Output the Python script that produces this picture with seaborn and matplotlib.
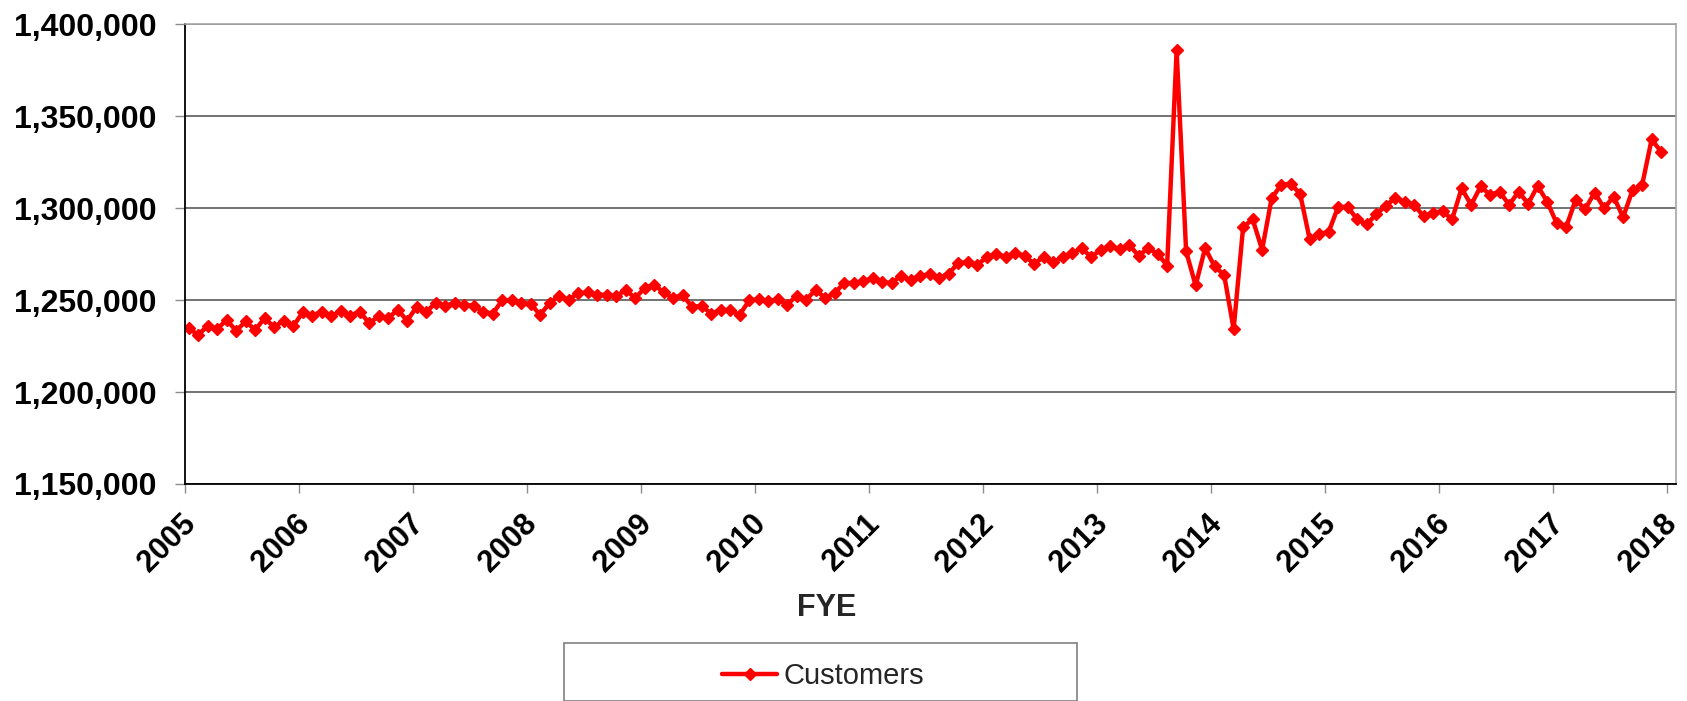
import numpy as np
import pandas as pd
import matplotlib
matplotlib.use("Agg")
import matplotlib.pyplot as plt
import matplotlib.transforms as mtransforms
import seaborn as sns
from matplotlib.ticker import FuncFormatter, MultipleLocator
from matplotlib.patches import Rectangle

# Monthly customer counts, one list per fiscal year
fy2005 = [1234700, 1231100, 1236000, 1234200, 1239300, 1233300, 1238400, 1233800, 1240200, 1235300, 1238900, 1235700]
fy2006 = [1243300, 1241500, 1243800, 1241100, 1244200, 1241500, 1243800, 1237500, 1241100, 1240200, 1244700, 1238900]
fy2007 = [1246200, 1243300, 1248700, 1246900, 1248400, 1247500, 1246900, 1243800, 1242600, 1249800, 1249800, 1248400]
fy2008 = [1248000, 1242000, 1248400, 1252400, 1250200, 1253800, 1254200, 1252900, 1252900, 1252000, 1255600, 1251100]
fy2009 = [1256500, 1258400, 1254200, 1251100, 1252900, 1246200, 1246900, 1242600, 1244700, 1244400, 1242000, 1249800]
fy2010 = [1250500, 1249300, 1250500, 1247500, 1252400, 1250200, 1255600, 1251100, 1253800, 1259300, 1259300, 1260200]
fy2011 = [1262000, 1259800, 1259300, 1263300, 1260700, 1262900, 1264300, 1262000, 1264300, 1270200, 1270500, 1269200]
fy2012 = [1273200, 1275200, 1273400, 1275500, 1274100, 1269800, 1273400, 1270500, 1273400, 1275500, 1278300, 1273400]
fy2013 = [1277400, 1279500, 1277700, 1280100, 1274100, 1278300, 1275200, 1268800, 1385900, 1276500, 1258000, 1278300]
fy2014 = [1268300, 1263800, 1234200, 1289700, 1294000, 1277400, 1305400, 1312700, 1313300, 1307800, 1283200, 1286100]
fy2015 = [1287000, 1300700, 1300700, 1294000, 1291200, 1296600, 1301300, 1305400, 1303600, 1301800, 1295500, 1297600]
fy2016 = [1298200, 1294000, 1310800, 1301800, 1311800, 1307200, 1309000, 1301800, 1309000, 1302400, 1312100, 1303600]
fy2017 = [1291900, 1289700, 1304500, 1299500, 1308500, 1300000, 1306300, 1295100, 1309900, 1312600, 1337400, 1330700]

year_labels = [str(y) for y in range(2005, 2019)]
series_name = "Customers"
x_title = "FYE"

customers = (fy2005 + fy2006 + fy2007 + fy2008 + fy2009 + fy2010 + fy2011
             + fy2012 + fy2013 + fy2014 + fy2015 + fy2016 + fy2017)
# each reading sits a few days into its month
fye = 2005 + (np.arange(len(customers)) + 0.35) / 12.0
df = pd.DataFrame({x_title: fye, series_name: customers})

sns.set_theme(style="white")
plt.rcParams["font.family"] = ["Liberation Sans", "DejaVu Sans"]

W, H = 1687, 701
fig = plt.figure(figsize=(W / 100, H / 100), dpi=100)
left, right, top, bottom = 185.3, 1676.0, 24.3, 484.0
ax = fig.add_axes([left / W, 1 - bottom / H, (right - left) / W, (bottom - top) / H])

red = "#ff0000"
sns.lineplot(data=df, x=x_title, y=series_name, ax=ax, color=red, linewidth=3.2,
             marker="D", markersize=6.5, markeredgecolor=red, markeredgewidth=1,
             legend=False, label=series_name)

ax.set_xlim(2005, 2005 + (right - left) / 114.0)
ax.set_ylim(1150000, 1400000)
ax.yaxis.set_major_locator(MultipleLocator(50000))
ax.yaxis.set_major_formatter(FuncFormatter(lambda v, p: f"{int(v):,}"))
ax.grid(axis="y", color="#5a5a5a", linewidth=1.2)
ax.grid(axis="x", visible=False)

ax.set_xticks(range(2005, 2019))
ax.set_xticklabels(year_labels, rotation=45, ha="right", va="top",
                   rotation_mode="anchor", fontsize=22, fontweight="bold")
for t in ax.get_yticklabels():
    t.set_fontsize(23)
    t.set_fontweight("bold")

ax.tick_params(axis="y", which="major", left=True, length=7, width=1,
               color="#8c8c8c", pad=14, labelcolor="black")
ax.tick_params(axis="x", which="major", bottom=True, length=6.5, width=1,
               color="#8c8c8c", pad=11.5, labelcolor="black")

# slanted year labels: upper end just left of each tick
shift = mtransforms.ScaledTranslation(-0.05, 0, fig.dpi_scale_trans)
for lab in ax.get_xticklabels():
    lab.set_transform(lab.get_transform() + shift)

ax.set_xlabel("")
ax.set_ylabel("")
for side in ("left", "bottom"):
    ax.spines[side].set_color("black")
    ax.spines[side].set_linewidth(1.3)
for side in ("right", "top"):
    ax.spines[side].set_color("#a6a6a6")
    ax.spines[side].set_linewidth(1.2)

fig.text(827 / W, 1 - 608 / H, x_title, ha="center", va="center",
         fontsize=22, fontweight="bold")

# legend box along the lower edge
fig.patches.append(Rectangle((564 / W, 0), (1077 - 564) / W, 1 - 649.6 / H + 0.01,
                             transform=fig.transFigure, fill=False,
                             edgecolor="#808080", linewidth=1.2, clip_on=False))
handles, labels = ax.get_legend_handles_labels()
fig.legend(handles, labels, loc="center left",
           bbox_to_anchor=(722 / W, 1 - 676.5 / H), frameon=False,
           borderpad=0, borderaxespad=0, handlelength=1.9, handletextpad=0.2,
           fontsize=21)

fig.savefig("out.png", dpi=100, facecolor="white")
